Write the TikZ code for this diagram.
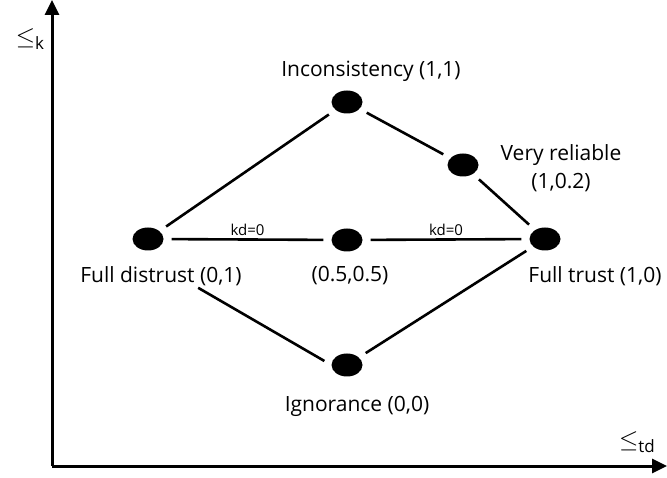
\documentclass[tikz,border=0pt]{standalone}
\usepackage{fontspec}
\setmainfont{Open Sans}
\usetikzlibrary{shapes.geometric,arrows.meta}
\begin{document}
\begin{tikzpicture}[x=1pt,y=-1pt,
  dot/.style={ellipse,fill=black,minimum width=31pt,minimum height=23pt,inner sep=0pt},
  lbl/.style={font=\fontsize{21}{28}\selectfont},
  small/.style={font=\fontsize{15}{18}\selectfont},
  sub/.style={font=\fontsize{27}{30}\selectfont,inner sep=0pt},
  link/.style={line width=2.6pt,shorten >=8pt,shorten <=8pt},
  axis/.style={line width=3pt,-{Triangle[length=15pt,width=14pt]}}]
\useasboundingbox (0,0) rectangle (667,478);
% axes
\coordinate (origin) at (52,466);
\coordinate (ktop) at (52,0);
\coordinate (tdend) at (667,466);
\draw[axis] (origin) -- (ktop);
\draw[axis] (origin) -- (tdend);
\node[sub] (klbl) at (30,39) {$\leq$\raisebox{-0.35ex}{\fontsize{17}{18}\selectfont k}};
\node[sub] (tdlbl) at (637,442) {$\leq$\raisebox{-0.35ex}{\fontsize{17}{18}\selectfont td}};
% points of the lattice
\node[dot] (incons) at (347,102) {};
\node[dot] (reliable) at (463,165) {};
\node[dot] (distrust) at (148,239) {};
\node[dot] (half) at (347,240) {};
\node[dot] (trust) at (545,239) {};
\node[dot] (ignor) at (347,365) {};
\node[lbl] (inconslbl) at (371,71) {Inconsistency (1,1)};
\node[lbl,align=center] (reliablelbl) at (561,168) {Very reliable\\(1,0.2)};
\node[lbl] (distrustlbl) at (161,276) {Full distrust (0,1)};
\node[lbl] (halflbl) at (350,276) {(0.5,0.5)};
\node[lbl] (trustlbl) at (595,276) {Full trust (1,0)};
\node[lbl] (ignorlbl) at (357,406) {Ignorance (0,0)};
% order
\draw[link] (distrust) -- (incons);
\draw[link] (incons) -- (reliable);
\draw[link] (reliable) -- (trust);
\draw[link] (distrust) -- node[small,above=-1pt] {kd=0} (half);
\draw[link] (half) -- node[small,above=-1pt] {kd=0} (trust);
\draw[link,shorten <=58pt] ([yshift=-8pt]distrust.south) -- (ignor.west);
\draw[link] (ignor) -- (trust);
\end{tikzpicture}
\end{document}
